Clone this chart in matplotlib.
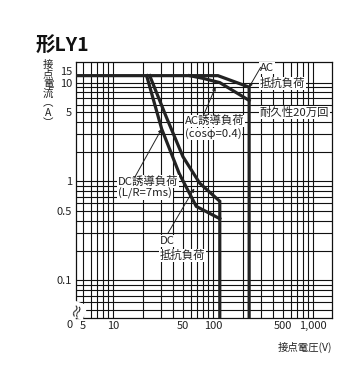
import numpy as np
import matplotlib
matplotlib.use('Agg')
import matplotlib.pyplot as plt

plt.rcParams['font.family'] = ['Noto Sans CJK JP', 'DejaVu Sans']

# ── data ─────────────────────────────────────────────────────────────────────
# AC resistive / inductive, DC resistive / inductive: volts, amps
ac_res_v = [4.0, 112, 230, 230]
ac_res_a = [15, 15, 9.0, 0.042]
ac_ind_v = [58.5, 79, 117, 230]
ac_ind_a = [15, 13.1, 10, 6.6]
dc_res_v = [23.3, 34.1, 50.1, 73.7, 117, 117]
dc_res_a = [15, 4.5, 1.78, 0.96, 0.63, 0.042]
dc_ind_v = [21.7, 30.7, 46, 68, 117]
dc_ind_a = [15, 3.4, 1.2, 0.56, 0.42]

x_ticks = [5, 10, 50, 100, 500, 1000]
x_ticklabels = ['5', '10', '50', '100', '500', '1,000']
y_ticks = [0.1, 0.5, 1, 5, 10]
y_ticklabels = ['0.1', '0.5', '1', '5', '10']

X_MIN, X_MAX = 4.27, 1550
Y_MIN, Y_MAX = 0.042, 24.6

# ── y scale: log up to 10 A, the strip above 10 A is squeezed (as printed) ───
K = 0.01407

def fwd(y):
    y = np.asarray(y, float)
    lo = np.log10(np.where(y > 0, y, 1e-12))
    return np.where(y <= 10, lo, 1 + (y - 10) * K)

def inv(u):
    u = np.asarray(u, float)
    with np.errstate(over='ignore'):
        return np.where(u <= 1, 10.0 ** np.minimum(u, 1), 10 + (u - 1) / K)

# ── figure ────────────────────────────────────────────────────────────────────
fig = plt.figure(figsize=(3.64, 3.78), dpi=100)
ax = fig.add_axes([0.2088, 0.16, 0.7033, 0.6752])
ax.set_xscale('log')
ax.set_yscale('function', functions=(fwd, inv))
ax.set_xlim(X_MIN, X_MAX)
ax.set_ylim(Y_MIN, Y_MAX)

GRID = '#111111'
x_grid = [v * d for d in (1, 10, 100) for v in range(1, 10)] + [1000]
x_grid = [v for v in x_grid if v >= 5]
y_grid = [v * d for d in (0.01, 0.1, 1) for v in range(1, 10)] + [10]
y_grid = [v for v in y_grid if v > Y_MIN]
for v in x_grid:
    ax.axvline(v, color=GRID, lw=0.8, zorder=1)
for v in y_grid:
    ax.axhline(v, color=GRID, lw=0.8, zorder=1)

for s in ax.spines.values():
    s.set_linewidth(0.9)
    s.set_color('#111111')

CURVE = '#222222'
kw = dict(color=CURVE, lw=2.3, solid_joinstyle='miter', zorder=3)
ax.plot(ac_res_v, ac_res_a, **kw)
ax.plot(ac_ind_v, ac_ind_a, **kw)
ax.plot(dc_res_v, dc_res_a, **kw)
ax.plot(dc_ind_v, dc_ind_a, **kw)

ax.set_xticks(x_ticks)
ax.set_xticklabels(x_ticklabels)
ax.set_yticks(y_ticks)
ax.set_yticklabels(y_ticklabels)
ax.xaxis.set_minor_locator(matplotlib.ticker.NullLocator())
ax.yaxis.set_minor_locator(matplotlib.ticker.NullLocator())
ax.tick_params(length=0, labelsize=8, colors='#222222')
ax.tick_params(axis='x', pad=2.5)
ax.tick_params(axis='y', pad=3)

# extra tick texts: the "15" squeezed above 10, and the broken-axis "0"
ax.annotate('15', xy=(0, 15), xycoords=('axes fraction', 'data'),
            xytext=(-3, 2.5), textcoords='offset points',
            ha='right', va='center', fontsize=8, color='#222222')
ax.annotate('0', xy=(0, 0), xycoords='axes fraction',
            xytext=(-4.5, -2), textcoords='offset points',
            ha='center', va='top', fontsize=8, color='#222222')
ax.text(0.004, 0.03, '≈', transform=ax.transAxes, rotation=70,
        ha='center', va='center', fontsize=11, color='#222222',
        bbox=dict(facecolor='white', edgecolor='none', pad=0.2))

# ── labels on the curves ──────────────────────────────────────────────────────
box = dict(facecolor='white', edgecolor='none', pad=0.6)
tkw = dict(fontsize=8.2, color='#222222', ha='left', va='center', zorder=4, bbox=box)
ax.text(295, 20.5, 'AC', **tkw)
ax.text(295, 9.8, '抵抗負荷', **tkw)
ax.text(295, 5.0, '耐久性20万回', **tkw)
ax.text(52.5, 4.1, 'AC誘導負荷', **tkw)
ax.text(52.5, 3.02, '(cosφ=0.4)', **tkw)
ax.text(11.2, 1.0, 'DC誘導負荷', **tkw)
ax.text(11.2, 0.75, '(L/R=7ms)', **tkw)
ax.text(29.5, 0.248, 'DC', **tkw)
ax.text(29.5, 0.179, '抵抗負荷', **tkw)

arrow = dict(arrowstyle='-|>', color='#222222', lw=0.7,
             mutation_scale=5, shrinkA=0, shrinkB=0)
ax.annotate('', xy=(229, 8.94), xytext=(300, 21), arrowprops=arrow, zorder=4)
ax.annotate('', xy=(106, 9.0), xytext=(80, 4.6), arrowprops=arrow, zorder=4)
ax.annotate('', xy=(30.7, 3.4), xytext=(16.5, 1.1), arrowprops=arrow, zorder=4)
ax.annotate('', xy=(65, 0.85), xytext=(35.5, 0.3), arrowprops=arrow, zorder=4)

# ── titles ────────────────────────────────────────────────────────────────────
fig.text(0.099, 0.878, '形LY1', fontsize=14, fontweight='bold',
         ha='left', va='center', color='#111111')
fig.text(48 / 364, 1 - 60 / 378, '接\n点\n電\n流\n︵\nA\n︶', fontsize=7.5,
         ha='center', va='top', linespacing=0.95, color='#222222')
fig.text(332 / 364, 1 - 347 / 378, '接点電圧(V)', fontsize=7.5,
         ha='right', va='center', color='#222222')

fig.savefig('out.png', dpi=100)
